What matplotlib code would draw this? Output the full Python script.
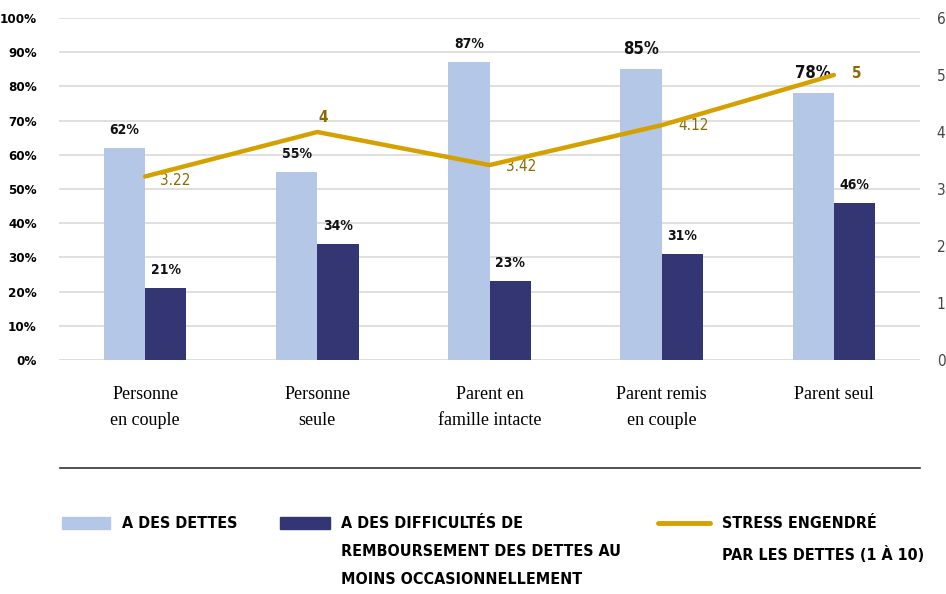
import matplotlib
matplotlib.use("Agg")
import matplotlib.pyplot as plt
from matplotlib.patches import Rectangle
from matplotlib.lines import Line2D
from matplotlib import font_manager
import numpy as np

categories = ["Personne\nen couple", "Personne\nseule", "Parent en\nfamille intacte", "Parent remis\nen couple", "Parent seul"]
a_des_dettes = [62, 55, 87, 85, 78]
difficultes = [21, 34, 23, 31, 46]
stress = [3.22, 4, 3.42, 4.12, 5]
left_ticks = [0, 10, 20, 30, 40, 50, 60, 70, 80, 90, 100]
right_ticks = [0, 1, 2, 3, 4, 5, 6]
legend_labels = ["A DES DETTES", "A DES DIFFICULTÉS DE\nREMBOURSEMENT DES DETTES AU\nMOINS OCCASIONNELLEMENT", "STRESS ENGENDRÉ\nPAR LES DETTES (1 À 10)"]

light = "#B4C7E7"
dark = "#333673"
gold = "#D4A100"
gold_txt = "#8B6B00"
serif = ["Liberation Serif", "DejaVu Serif"]

def cfont(size, bold=True):
    return font_manager.FontProperties(family="DejaVu Sans", stretch="condensed",
                                       weight="bold" if bold else "normal", size=size)

fig = plt.figure(figsize=(9.46, 5.94), dpi=100)
ax = fig.add_axes([59/946, 1-360/594, (920-59)/946, (360-18)/594])
x = np.arange(len(categories))
w = 0.24
ax.bar(x - w/2, a_des_dettes, w, color=light, zorder=2)
ax.bar(x + w/2, difficultes, w, color=dark, zorder=2)
ax.set_xlim(-0.5, len(categories) - 0.5)
ax.set_ylim(0, 100)
ax.set_yticks(left_ticks)
ax.set_yticklabels([f"{t}%" for t in left_ticks])
for t in ax.get_yticklabels():
    t.set_fontproperties(cfont(9.5))
ax.yaxis.grid(True, color="#D9D9D9", linewidth=1.2, zorder=0)
ax.set_axisbelow(True)
for s in ax.spines.values():
    s.set_visible(False)
ax.tick_params(axis="y", length=0, pad=16)
ax.tick_params(axis="x", length=0, pad=19)
ax.set_xticks(x)
ax.set_xticklabels(categories, fontfamily=serif, fontsize=13, linespacing=1.7)

for i, v in enumerate(a_des_dettes):
    big = i >= 3
    ax.annotate(f"{v}%", (x[i] - w/2, v), xytext=(0, 8), textcoords="offset points",
                ha="center", va="bottom", fontproperties=cfont(12 if big else 10),
                color="#111111")
for i, v in enumerate(difficultes):
    ax.annotate(f"{v}%", (x[i] + w/2, v), xytext=(0, 8), textcoords="offset points",
                ha="center", va="bottom", fontproperties=cfont(10), color="#111111")

ax2 = ax.twinx()
ax2.plot(x, stress, color=gold, linewidth=3.2, zorder=5, solid_capstyle="round")
ax2.set_ylim(0, 6)
ax2.set_yticks(right_ticks)
ax2.set_yticklabels([str(t) for t in right_ticks])
for t in ax2.get_yticklabels():
    t.set_fontproperties(cfont(11, bold=False))
    t.set_color("#444444")
ax2.tick_params(axis="y", length=0, pad=12)
for s in ax2.spines.values():
    s.set_visible(False)

offsets = [(11, -3), (4, 5), (12, -1), (12, 0), (13, 1)]
vas = ["center", "bottom", "center", "center", "center"]
for i, v in enumerate(stress):
    lbl = f"{v:g}"
    ax2.annotate(lbl, (x[i], v), xytext=offsets[i], textcoords="offset points",
                 ha="left" if i != 1 else "center", va=vas[i],
                 fontproperties=cfont(11, bold=(i in (1, 4))), color=gold_txt)

# separator
fig.add_artist(Line2D([60/946, 920/946], [1-468/594, 1-468/594], color="#333333", linewidth=1.2))

# legend
ly = 1 - 523/594
fig.add_artist(Rectangle((62/946, ly - 6/594), 48/946, 12/594, color=light, transform=fig.transFigure))
fig.text(122/946, ly, legend_labels[0], fontproperties=cfont(11.5), va="center", ha="left")
fig.add_artist(Rectangle((280/946, ly - 6/594), 50/946, 12/594, color=dark, transform=fig.transFigure))
fig.text(341/946, ly + 7/594, legend_labels[1], fontproperties=cfont(11.5), va="top", ha="left", linespacing=2.1)
fig.add_artist(Line2D([658/946, 710/946], [ly, ly], color=gold, linewidth=3.5, solid_capstyle="round"))
fig.text(722/946, ly + 7/594, legend_labels[2], fontproperties=cfont(11.5), va="top", ha="left", linespacing=2.1)

fig.savefig("out.png", dpi=100)
